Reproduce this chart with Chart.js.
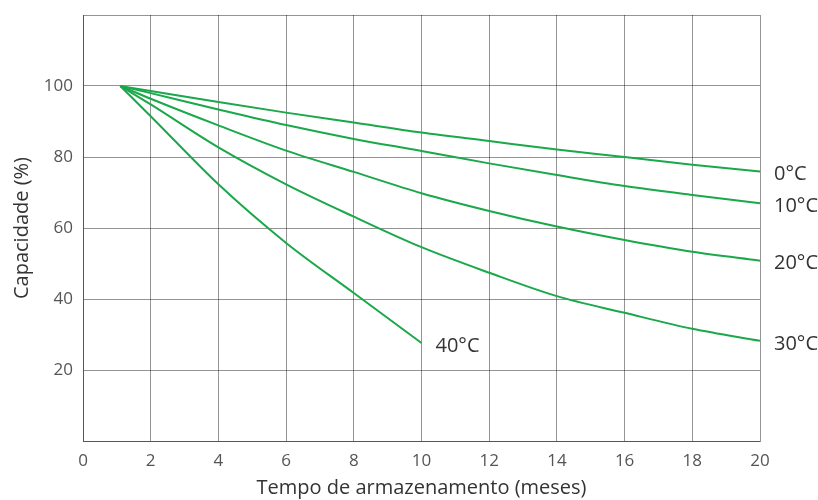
<!DOCTYPE html>
<html>
<head>
<meta charset="utf-8">
<script src="https://cdn.jsdelivr.net/npm/chart.js@4"></script>
<style>
  html, body { margin: 0; padding: 0; background: #fff; }
  #wrap { width: 818px; height: 500px; }
</style>
</head>
<body>
<div id="wrap"><canvas id="myChart" width="818" height="500"></canvas></div>
<script>
const months = [1.1, 2, 4, 6, 8, 10, 12, 14, 16, 18, 20];
const temp0 = [100, 98.6, 95.5, 92.5, 89.7, 86.9, 84.5, 82.1, 80.0, 77.8, 75.9];
const temp10 = [100, 98.0, 93.4, 89.0, 85.1, 81.7, 78.2, 74.9, 71.8, 69.3, 67.0];
const temp20 = [100, 96.4, 88.9, 81.8, 75.8, 69.8, 64.8, 60.4, 56.6, 53.3, 50.8];
const temp30 = [100, 94.8, 82.7, 72.3, 63.2, 54.6, 47.4, 40.8, 36.1, 31.6, 28.2];
const temp40 = [100, 91.5, 72.3, 55.8, 41.7, 27.6];
const seriesLabels = ['0°C', '10°C', '20°C', '30°C', '40°C'];
const yTicksShown = [20, 40, 60, 80, 100];

const green = '#1aa84a';
const gridColor = 'rgba(0,0,0,0.42)';
const fontFamily = '"Open Sans", sans-serif';

function toPoints(values) {
  return values.map((v, i) => ({ x: months[i], y: v }));
}

const allSeries = [temp0, temp10, temp20, temp30, temp40];

// writes the temperature next to the end of each curve
const endLabels = {
  id: 'endLabels',
  afterDatasetsDraw(chart) {
    const ctx = chart.ctx;
    ctx.save();
    ctx.font = '20px ' + fontFamily;
    ctx.fillStyle = '#333';
    ctx.textAlign = 'left';
    ctx.textBaseline = 'middle';
    chart.data.datasets.forEach((ds, i) => {
      const meta = chart.getDatasetMeta(i);
      const last = meta.data[meta.data.length - 1];
      ctx.fillText(ds.label, last.x + 14, last.y + 3);
    });
    ctx.restore();
  }
};

new Chart(document.getElementById('myChart').getContext('2d'), {
  type: 'line',
  data: {
    datasets: allSeries.map((vals, i) => ({
      label: seriesLabels[i],
      data: toPoints(vals),
      borderColor: green,
      borderWidth: 2,
      pointRadius: 0,
      fill: false,
      cubicInterpolationMode: 'monotone'
    }))
  },
  options: {
    responsive: false,
    animation: false,
    layout: { padding: { top: 15, right: 58, left: 0, bottom: 0 } },
    plugins: {
      legend: { display: false },
      tooltip: { enabled: false }
    },
    scales: {
      x: {
        type: 'linear',
        min: 0,
        max: 20,
        ticks: {
          stepSize: 2,
          color: '#555',
          font: { family: fontFamily, size: 17 },
          padding: 10
        },
        grid: { color: gridColor, lineWidth: 1, drawTicks: false },
        border: { color: gridColor },
        title: {
          display: true,
          text: 'Tempo de armazenamento (meses)',
          color: '#333',
          font: { family: fontFamily, size: 20 },
          padding: { top: 0, bottom: 0 }
        },
        afterFit: scale => {
          scale.height = 59;
          scale.paddingLeft = 0;
          scale.paddingRight = 0;
        }
      },
      y: {
        min: 0,
        max: 120,
        ticks: {
          stepSize: 20,
          color: '#555',
          font: { family: fontFamily, size: 17 },
          padding: 10,
          callback: v => yTicksShown.includes(v) ? v : ''
        },
        grid: { color: gridColor, lineWidth: 1, drawTicks: false },
        border: { color: gridColor },
        title: {
          display: true,
          text: 'Capacidade (%)',
          color: '#333',
          font: { family: fontFamily, size: 20 },
          padding: { top: 10, bottom: 0 }
        },
        afterFit: scale => {
          scale.width = 83;
          scale.paddingTop = 0;
          scale.paddingBottom = 0;
        }
      }
    }
  },
  plugins: [endLabels]
});
</script>
</body>
</html>
